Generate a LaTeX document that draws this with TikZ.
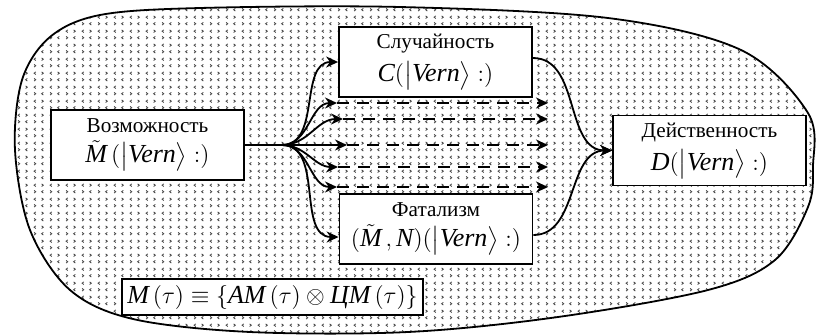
\documentclass[tikz,border=0pt]{standalone}
\usepackage{amsmath}
\usepackage{fontspec}
\setmainfont{Liberation Serif}
\usetikzlibrary{arrows.meta, patterns}

% chevron fill of the field
\pgfdeclarepatternformonly{chevrons}{\pgfqpoint{0pt}{0pt}}{\pgfqpoint{8pt}{7pt}}{\pgfqpoint{8pt}{7pt}}{%
  \pgfsetlinewidth{0.45pt}
  \pgfpathmoveto{\pgfqpoint{2.0pt}{5.95pt}}\pgfpathlineto{\pgfqpoint{1.1pt}{5.25pt}}\pgfpathlineto{\pgfqpoint{2.0pt}{4.55pt}}
  \pgfpathmoveto{\pgfqpoint{5.1pt}{5.95pt}}\pgfpathlineto{\pgfqpoint{6.0pt}{5.25pt}}\pgfpathlineto{\pgfqpoint{5.1pt}{4.55pt}}
  \pgfpathmoveto{\pgfqpoint{1.1pt}{2.45pt}}\pgfpathlineto{\pgfqpoint{2.0pt}{1.75pt}}\pgfpathlineto{\pgfqpoint{1.1pt}{1.05pt}}
  \pgfpathmoveto{\pgfqpoint{6.0pt}{2.45pt}}\pgfpathlineto{\pgfqpoint{5.1pt}{1.75pt}}\pgfpathlineto{\pgfqpoint{6.0pt}{1.05pt}}
  \pgfusepath{stroke}}

\newcommand{\mi}[1]{\textit{#1}}
\newcommand{\mfont}{\fontsize{13}{15}\selectfont}

\tikzstyle{blok}      = [rectangle, draw=black, fill=white, line width=0.9pt, minimum width=96.5pt,
                         minimum height=35pt, align=center, inner sep=1pt, font=\fontsize{10.6}{12}\selectfont]
\tikzstyle{formula}   = [rectangle, draw=black, fill=white, line width=0.9pt, minimum width=150.5pt,
                         minimum height=18pt, inner sep=1pt, font=\mfont]
\tikzstyle{arrow}     = [-{Stealth[length=6pt,width=5.5pt]}, line width=0.9pt]
\tikzstyle{dasharrow} = [arrow, dash pattern=on 6pt off 4pt]

\begin{document}
\begin{tikzpicture}[x=0.5pt, y=0.5pt]
    \useasboundingbox (0,0) rectangle (816,334);
    % field
    \draw[line width=0.9pt, pattern=chevrons, pattern color=black!70] plot[smooth cycle, tension=0.55] coordinates {
        (15,184) (22,254) (50,297) (100,319) (200,326) (400,327) (608,316) (741,284) (808,221)
        (813,167) (808,127) (775,74) (708,44) (558,17) (408,2) (250,2) (133,15) (70,44) (30,104)};

    \node (vozm) [blok] at (147.5,189) {Возможность\\[3pt]{\mfont $\tilde{\mi{M}}\,(\bigl|\mi{Vern}\bigr\rangle :)$}};
    \node (sluch) [blok] at (435.5,272) {Случайность\\[3pt]{\mfont $\mi{C}(\bigl|\mi{Vern}\bigr\rangle :)$}};
    \node (fatal) [blok] at (436,105) {Фатализм\\[3pt]{\mfont $(\tilde{\mi{M}}\,,\mi{N})(\bigl|\mi{Vern}\bigr\rangle :)$}};
    \node (deistv) [blok] at (709.5,183.5) {Действенность\\[3pt]{\mfont $\mi{D}(\bigl|\mi{Vern}\bigr\rangle :)$}};
    \node (mform) [formula] at (272.5,37) {$\mi{M}\,(\tau)\equiv\{\mi{AM}\,(\tau)\otimes\mi{ЦM}\,(\tau)\}$};

    \coordinate (razv) at (282,189);
    \coordinate (s3) at (347,189);
    \coordinate (f3) at (548,189);

    \draw[line width=0.9pt] (vozm.east) -- (razv);
    \draw[arrow] (razv) -- (s3);
    \draw[dasharrow] (s3) -- (f3);
    \draw[arrow] (razv) to[out=0,in=180] (sluch.west);
    \draw[arrow] (razv) to[out=0,in=180] ([yshift=-4pt]fatal.west);
    \foreach \n/\yy/\xx in {1/231/337, 2/215/343, 4/167/338, 5/147/337} {
        \coordinate (s\n) at (\xx,\yy);
        \coordinate (f\n) at (548,\yy);
        \draw[arrow] (razv) to[out=0,in=180] (s\n);
        \draw[dasharrow] (s\n) -- (f\n);
    }
    \draw[arrow] ([yshift=2pt]sluch.east) to[out=0,in=180] (deistv.west);
    \draw[arrow] ([yshift=-3pt]fatal.east) to[out=0,in=180] (deistv.west);
\end{tikzpicture}
\end{document}
